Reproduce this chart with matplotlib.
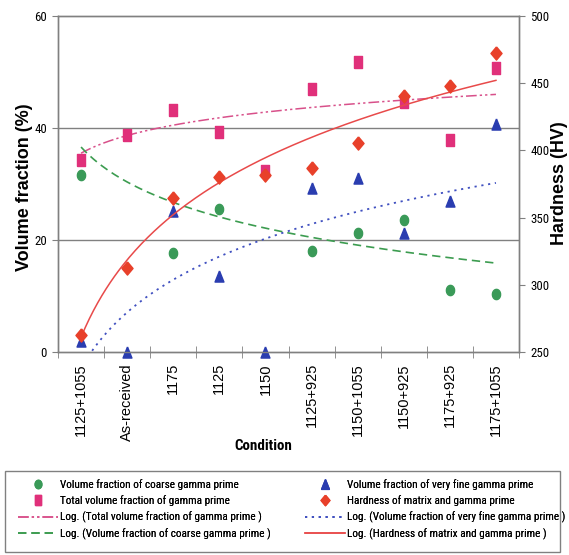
import numpy as np
import matplotlib.pyplot as plt
from matplotlib import font_manager
from matplotlib.lines import Line2D
from matplotlib.patches import Rectangle

# categories along the x axis
conditions = ["1125+1055", "As-received", "1175", "1125", "1150",
              "1125+925", "1150+1055", "1150+925", "1175+925", "1175+1055"]

# volume fractions (%), left axis
coarse = [31.6, np.nan, 17.7, 25.5, np.nan, 18.0, 21.2, 23.6, 11.1, 10.3]
total = [34.3, 38.8, 43.2, 39.2, 32.4, 46.9, 51.7, 44.7, 37.9, 50.8]
very_fine = [2.0, 0.0, 25.2, 13.6, 0.0, 29.2, 31.0, 21.2, 27.0, 40.7]

# hardness (HV), right axis
hardness = [262.6, 312.5, 364.6, 380.2, 381.7, 386.9, 405.5, 440.5, 447.9, 472.5]

# Excel log trendlines y = a*ln(x) + b, coefficients
trend_total = (4.56, 35.5)
trend_coarse = (-9.0, 36.6)
trend_fine = (14.36, -2.87)
trend_hard = (83.0, 261.0)

# colours
c_green = "#3a9a58"
c_pink = "#e0307a"
c_blue = "#2a3db0"
c_red = "#e8402a"
c_pink_ln = "#d8508a"
c_green_ln = "#3c9c50"
c_blue_ln = "#4050c0"
c_red_ln = "#e84a4a"

# marker shapes (picture is a bit taller than wide)
sq = [(-0.33, -0.5), (0.33, -0.5), (0.33, 0.5), (-0.33, 0.5), (-0.33, -0.5)]
t = np.linspace(0, 2 * np.pi, 40)
circ = list(zip(0.4 * np.cos(t), 0.5 * np.sin(t)))
dia = [(0, 0.5), (0.42, 0), (0, -0.5), (-0.42, 0), (0, 0.5)]
tri = [(0, 0.5), (0.4, -0.5), (-0.4, -0.5), (0, 0.5)]


def pick_font(names):
    # first installed family from the list, plus how wide it is vs Liberation Sans
    for name, ratio in names:
        try:
            font_manager.findfont(name, fallback_to_default=False)
            return name, ratio
        except ValueError:
            pass
    return "Liberation Sans", 1.0


nfont, nratio = pick_font([("Liberation Sans Narrow", 0.82), ("Roboto Condensed", 0.86),
                           ("DejaVu Sans Condensed", 0.98)])
narrow = [nfont, "DejaVu Sans"]
regular = ["Liberation Sans", "DejaVu Sans"]

W, H = 569, 555
fig = plt.figure(figsize=(W / 100, H / 100), dpi=100)
fig.patch.set_facecolor("white")

left, right, top, bottom = 58, 519, 16, 352
ax = fig.add_axes([left / W, 1 - bottom / H, (right - left) / W, (bottom - top) / H])
ax2 = ax.twinx()

x = np.arange(1, len(conditions) + 1)
xf = np.linspace(1, len(conditions), 200)

# left axis series
ax.plot(x, coarse, linestyle="none", marker=circ, ms=7.4, color=c_green, mec=c_green, zorder=3)
ax.plot(x, very_fine, linestyle="none", marker=tri, ms=8.0, color=c_blue, mec=c_blue, zorder=3, clip_on=False)
ax.plot(x, total, linestyle="none", marker=sq, ms=8.8, color=c_pink, mec=c_pink, zorder=4)

ls_total = (0, (7, 2, 1.5, 2, 1.5, 2))
ls_coarse = (0, (5, 3))
ls_fine = (0, (1.2, 2.6))
ax.plot(xf, trend_total[0] * np.log(xf) + trend_total[1], color=c_pink_ln, lw=1.1,
        linestyle=ls_total, zorder=2)
ax.plot(xf, trend_coarse[0] * np.log(xf) + trend_coarse[1], color=c_green_ln, lw=1.2,
        linestyle=ls_coarse, zorder=2)
ax.plot(xf, trend_fine[0] * np.log(xf) + trend_fine[1], color=c_blue_ln, lw=1.3,
        linestyle=ls_fine, zorder=2)

# right axis series
ax2.plot(x, hardness, linestyle="none", marker=dia, ms=9.5, color=c_red, mec=c_red, zorder=3)
ax2.plot(xf, trend_hard[0] * np.log(xf) + trend_hard[1], color=c_red_ln, lw=1.1, zorder=2)

ax.set_xlim(0.5, len(conditions) + 0.5)
ax.set_ylim(0, 60)
ax2.set_ylim(250, 500)
ax.set_yticks([0, 20, 40, 60])
ax2.set_yticks(np.arange(250, 501, 50))

ax.set_xticks(x)
ax.set_xticklabels(conditions, rotation=90, family=regular, fontsize=10.5)
ax.set_xticks(np.arange(0.5, len(conditions) + 1, 1), minor=True)
ax.tick_params(axis="x", which="major", length=0, pad=8)
ax.tick_params(axis="x", which="minor", length=8, direction="inout", color="#808080")
ax.tick_params(axis="y", length=4, color="#808080", pad=4)
ax2.tick_params(axis="y", length=4, color="#808080", pad=4)
for lab in ax.get_yticklabels() + ax2.get_yticklabels():
    lab.set_family(narrow)
    lab.set_fontsize(8.0 / nratio)

for a in (ax, ax2):
    for s in a.spines.values():
        s.set_color("#808080")
        s.set_linewidth(1)

for g in [20, 40]:
    ax.axhline(g, color="#808080", lw=1, zorder=1)

fig.text(25 / W, 1 - 187 / H, "Volume fraction (%)", rotation=90, ha="center", va="center",
         family=regular, fontweight="bold", fontsize=13)
fig.text(560 / W, 1 - 183 / H, "Hardness (HV)", rotation=90, ha="center", va="center",
         family=regular, fontweight="bold", fontsize=13)
fig.text(263 / W, 1 - 446 / H, "Condition", ha="center", va="center",
         family=narrow, fontweight="bold", fontsize=9.3 / nratio)

# legend: two columns placed by hand inside one frame
fs = 7.0 / nratio
fs_px = fs * 100 / 72
lsp = max((18.3 - 1.15 * fs_px) / fs_px, 0.1)
hl = 28.8 / fs

col1 = [
    (Line2D([], [], linestyle="none", marker=circ, ms=6, color=c_green),
     "Volume fraction of coarse gamma prime"),
    (Line2D([], [], linestyle="none", marker=sq, ms=7.5, color=c_pink),
     "Total volume fraction of gamma prime"),
    (Line2D([], [], color=c_pink_ln, lw=1.1, linestyle=ls_total),
     "Log. (Total volume fraction of gamma prime )"),
    (Line2D([], [], color=c_green_ln, lw=1.2, linestyle=ls_coarse),
     "Log. (Volume fraction of coarse gamma prime )"),
]
col2 = [
    (Line2D([], [], linestyle="none", marker=tri, ms=7, color=c_blue),
     "Volume fraction of very fine gamma prime"),
    (Line2D([], [], linestyle="none", marker=dia, ms=7.5, color=c_red),
     "Hardness of matrix and gamma prime"),
    (Line2D([], [], color=c_blue_ln, lw=1.3, linestyle=ls_fine),
     "Log. (Volume fraction of very fine gamma prime )"),
    (Line2D([], [], color=c_red_ln, lw=1.1),
     "Log. (Hardness of matrix and gamma prime )"),
]
for entries, x0 in [(col1, 18), (col2, 305)]:
    lg = fig.legend([e[0] for e in entries], [e[1] for e in entries],
                    loc="center left", bbox_to_anchor=(x0 / W, 1 - 509.5 / H),
                    prop={"family": narrow, "size": fs}, frameon=False,
                    borderaxespad=0, borderpad=0, handlelength=hl,
                    handletextpad=0.15, labelspacing=lsp)
    fig.add_artist(lg)

fig.add_artist(Rectangle((5 / W, 1 - 552 / H), 555 / W, 81 / H, transform=fig.transFigure,
                         fill=False, edgecolor="#808080", lw=1))

fig.savefig("out.png", dpi=100, facecolor="white")
